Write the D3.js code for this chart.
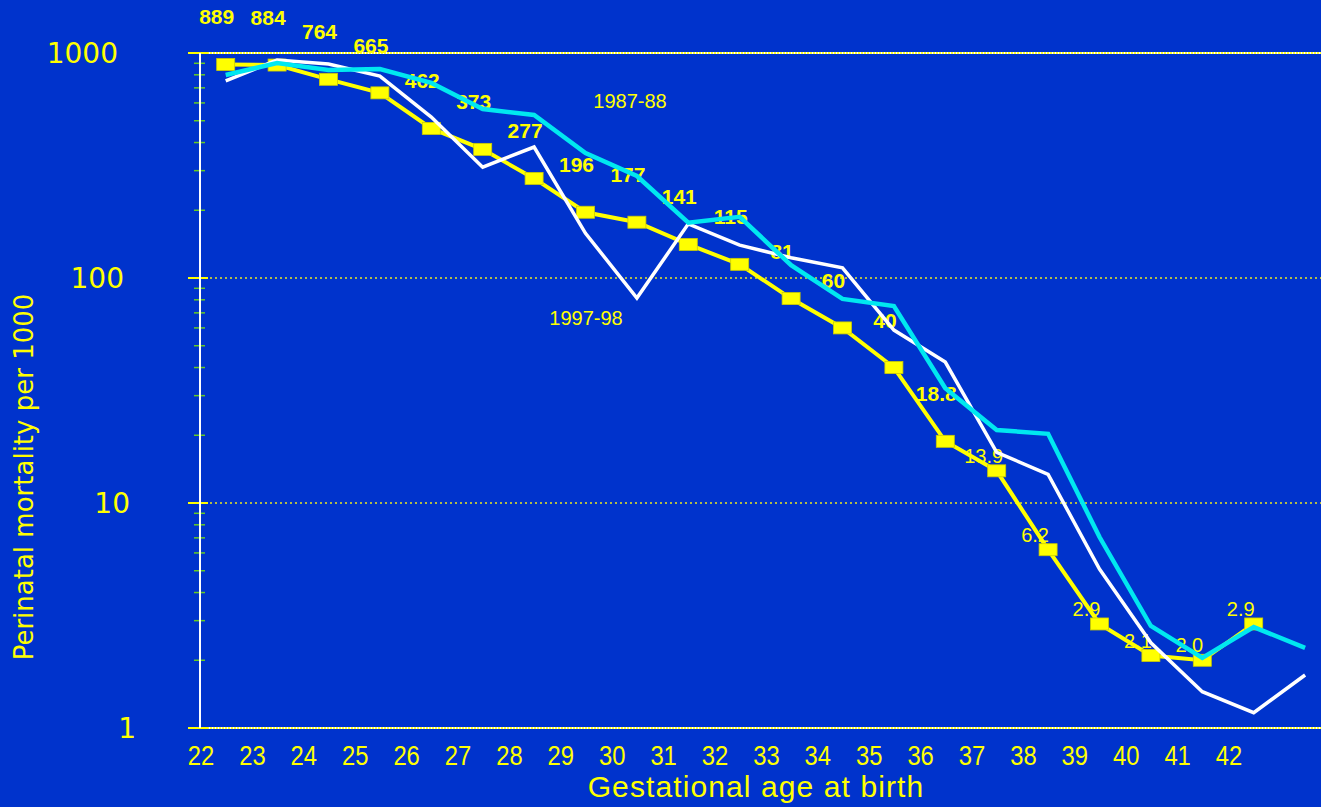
<!DOCTYPE html>
<html lang="en">
<head>
	<meta charset="UTF-8">
	<title>Perinatal mortality by gestational age</title>
	<script src="https://cdn.jsdelivr.net/npm/d3@7"></script>
	<style>
	html, body {
		margin: 0;
		padding: 0;
		background-color: #0033cc;
		overflow: hidden;
	}
	.tick-y {
		font-family: 'DejaVu Sans', Verdana, sans-serif;
		font-size: 28px;
		fill: #ffff00;
	}
	.tick-x {
		font-family: 'Liberation Sans', Arial, sans-serif;
		font-size: 27px;
		fill: #ffff00;
	}
	.axis-title {
		fill: #ffff00;
	}
	.point-label {
		font-family: 'Liberation Sans', Arial, sans-serif;
		fill: #ffff00;
	}
	</style>
</head>
<body>
<script>
	// gestational age categories (last one only for the two comparison years)
	var ages = [22, 23, 24, 25, 26, 27, 28, 29, 30, 31, 32, 33, 34, 35, 36, 37, 38, 39, 40, 41, 42, 43];
	var tickLabels = ['22', '23', '24', '25', '26', '27', '28', '29', '30', '31', '32', '33', '34', '35', '36', '37', '38', '39', '40', '41', '42'];

	// highlighted series (yellow, with squares and value labels)
	var mainValues = [889, 884, 764, 665, 462, 373, 277, 196, 177, 141, 115, 81, 60, 40, 18.8, 13.9, 6.2, 2.9, 2.1, 2.0, 2.9];
	var mainLabels = ['889', '884', '764', '665', '462', '373', '277', '196', '177', '141', '115', '81', '60', '40', '18.8', '13.9', '6.2', '2.9', '2.1', '2.0', '2.9'];

	// 1987-88 (cyan) and 1997-98 (white)
	var values8788 = [798, 903, 840, 849, 736, 564, 530, 359, 284, 176, 187, 114, 80.7, 75, 32.4, 21.1, 20.3, 7.06, 2.84, 2.05, 2.81, 2.27];
	var values9798 = [751, 931, 894, 790, 519, 311, 382, 158, 81.5, 174, 140, 123, 111, 58.7, 42.3, 16.8, 13.4, 5.09, 2.39, 1.45, 1.17, 1.72];

	var yMajor = [1, 10, 100, 1000];
	var yMinor = [2, 3, 4, 5, 6, 7, 8, 9, 20, 30, 40, 50, 60, 70, 80, 90, 200, 300, 400, 500, 600, 700, 800, 900];

	var width = 1321;
	var height = 807;
	var plot = {left: 200, top: 53, bottom: 728, step: 51.4};

	var svg = d3.select('body').append('svg')
		.attr('width', width)
		.attr('height', height);

	var x = d3.scaleBand()
		.domain(ages)
		.range([plot.left, plot.left + plot.step * ages.length])
		.padding(0);

	var y = d3.scaleLog()
		.domain([1, 1000])
		.range([plot.bottom, plot.top]);

	function cx(i) { return x(ages[i]) + x.bandwidth() / 2; }

	// gridlines at 10 and 100 (dotted yellow)
	svg.selectAll('.grid')
		.data([10, 100])
		.enter()
		.append('line')
		.attr('class', 'grid')
		.attr('x1', plot.left)
		.attr('x2', width)
		.attr('y1', function (d) { return y(d); })
		.attr('y2', function (d) { return y(d); })
		.style('stroke', '#e8e820')
		.style('stroke-width', 1.5)
		.style('stroke-dasharray', '2,3');

	// top line and x axis (yellow/white fine dots)
	[1, 1000].forEach(function (v) {
		svg.append('line')
			.attr('x1', plot.left).attr('x2', width)
			.attr('y1', y(v)).attr('y2', y(v))
			.style('stroke', '#ffff33')
			.style('stroke-width', 2);
		svg.append('line')
			.attr('x1', plot.left).attr('x2', width)
			.attr('y1', y(v)).attr('y2', y(v))
			.style('stroke', '#ffffff')
			.style('stroke-width', 2)
			.style('stroke-dasharray', '1,2');
	});

	// major ticks
	svg.selectAll('.major')
		.data(yMajor)
		.enter()
		.append('line')
		.attr('x1', plot.left - 12)
		.attr('x2', plot.left + 8)
		.attr('y1', function (d) { return y(d); })
		.attr('y2', function (d) { return y(d); })
		.style('stroke', '#ffff00')
		.style('stroke-width', 2);

	// minor ticks
	svg.selectAll('.minor')
		.data(yMinor)
		.enter()
		.append('line')
		.attr('x1', plot.left - 6)
		.attr('x2', plot.left + 5)
		.attr('y1', function (d) { return y(d); })
		.attr('y2', function (d) { return y(d); })
		.style('stroke', '#66cc22')
		.style('stroke-width', 1.5);

	// vertical axis
	svg.append('line')
		.attr('x1', plot.left).attr('x2', plot.left)
		.attr('y1', y(1000)).attr('y2', y(1))
		.style('stroke', '#ffffff')
		.style('stroke-width', 2);

	// y tick labels
	svg.selectAll('.tick-y')
		.data(yMajor)
		.enter()
		.append('text')
		.attr('class', 'tick-y')
		.attr('x', function (d) { return 136 - (String(d).length - 1) * 6; })
		.attr('y', function (d) { return y(d); })
		.attr('dy', '0.36em')
		.style('text-anchor', 'end')
		.text(function (d) { return d; });

	// x tick labels at band starts, slightly condensed
	svg.selectAll('.tick-x')
		.data(tickLabels)
		.enter()
		.append('text')
		.attr('class', 'tick-x')
		.attr('transform', function (d, i) {
			return 'translate(' + (x(ages[i]) + 1) + ',765) scale(0.88,1)';
		})
		.style('text-anchor', 'middle')
		.text(function (d) { return d; });

	svg.append('text')
		.attr('class', 'axis-title')
		.attr('x', 756)
		.attr('y', 797)
		.style('text-anchor', 'middle')
		.style('font-family', "'Liberation Sans', Arial, sans-serif")
		.style('font-size', '30px')
		.style('letter-spacing', '1.1px')
		.text('Gestational age at birth');

	svg.append('text')
		.attr('class', 'axis-title')
		.attr('transform', 'translate(33,477) rotate(-90)')
		.style('text-anchor', 'middle')
		.style('font-family', "'DejaVu Sans', Verdana, sans-serif")
		.style('font-size', '26px')
		.text('Perinatal mortality per 1000');

	var line = d3.line()
		.x(function (d, i) { return cx(i); })
		.y(function (d) { return y(d); });

	// yellow series
	svg.append('path')
		.datum(mainValues)
		.attr('d', line)
		.style('fill', 'none')
		.style('stroke', '#ffff00')
		.style('stroke-width', 4);

	svg.selectAll('.sq')
		.data(mainValues)
		.enter()
		.append('rect')
		.attr('class', 'sq')
		.attr('x', function (d, i) { return cx(i) - 9; })
		.attr('y', function (d) { return y(d) - 6; })
		.attr('width', 18)
		.attr('height', 12)
		.style('fill', '#ffff00')
		.style('stroke', '#cccc00')
		.style('stroke-width', 0.8);

	svg.selectAll('.point-label')
		.data(mainValues)
		.enter()
		.append('text')
		.attr('class', 'point-label')
		.attr('x', function (d, i) { return cx(i) + (d > 15 ? -9 : -13); })
		.attr('y', function (d) { return y(d) + (d > 15 ? -40 : -8); })
		.style('text-anchor', 'middle')
		.style('font-weight', function (d) { return d > 15 ? 'bold' : 'normal'; })
		.style('font-size', function (d) { return d > 15 ? '21px' : '20px'; })
		.text(function (d, i) { return mainLabels[i]; });

	// 1997-98 white
	svg.append('path')
		.datum(values9798)
		.attr('d', line)
		.style('fill', 'none')
		.style('stroke', '#ffffff')
		.style('stroke-width', 3.5);

	// 1987-88 cyan
	svg.append('path')
		.datum(values8788)
		.attr('d', line)
		.style('fill', 'none')
		.style('stroke', '#00e8f0')
		.style('stroke-width', 4.5);

	// series names
	svg.append('text')
		.attr('class', 'point-label')
		.attr('x', 630)
		.attr('y', 108)
		.style('text-anchor', 'middle')
		.style('font-size', '20px')
		.text('1987-88');

	svg.append('text')
		.attr('class', 'point-label')
		.attr('x', 586)
		.attr('y', 325)
		.style('text-anchor', 'middle')
		.style('font-size', '20px')
		.text('1997-98');
</script>
</body>
</html>
